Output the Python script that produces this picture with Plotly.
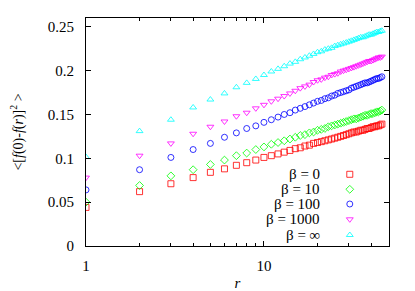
import plotly.graph_objects as go

r_values = list(range(1, 47))

beta_labels = ["β = 0", "β = 10", "β = 100", "β = 1000", "β = ∞"]

beta_0 = [0.044, 0.062, 0.071, 0.078, 0.084, 0.088, 0.092, 0.095, 0.098, 0.101,
          0.103, 0.105, 0.107, 0.109, 0.111, 0.112, 0.114, 0.115, 0.117, 0.118,
          0.119, 0.120, 0.121, 0.122, 0.123, 0.124, 0.125, 0.126, 0.127, 0.128,
          0.129, 0.130, 0.130, 0.131, 0.132, 0.132, 0.133, 0.134, 0.134, 0.135,
          0.136, 0.136, 0.137, 0.137, 0.138, 0.139]
beta_10 = [0.050, 0.069, 0.080, 0.087, 0.093, 0.098, 0.103, 0.106, 0.110, 0.113,
           0.116, 0.118, 0.120, 0.122, 0.124, 0.126, 0.127, 0.129, 0.130, 0.132,
           0.133, 0.134, 0.136, 0.137, 0.138, 0.139, 0.140, 0.141, 0.142, 0.143,
           0.144, 0.145, 0.145, 0.146, 0.147, 0.148, 0.149, 0.149, 0.150, 0.151,
           0.151, 0.152, 0.153, 0.153, 0.154, 0.155]
beta_100 = [0.064, 0.087, 0.101, 0.110, 0.117, 0.124, 0.129, 0.134, 0.137, 0.141,
            0.144, 0.147, 0.150, 0.152, 0.155, 0.157, 0.159, 0.161, 0.163, 0.165,
            0.166, 0.168, 0.169, 0.171, 0.172, 0.174, 0.175, 0.176, 0.177, 0.178,
            0.180, 0.181, 0.182, 0.183, 0.184, 0.185, 0.186, 0.186, 0.187, 0.188,
            0.189, 0.190, 0.191, 0.191, 0.192, 0.193]
beta_1000 = [0.078, 0.103, 0.117, 0.128, 0.136, 0.142, 0.148, 0.152, 0.157, 0.161,
             0.165, 0.168, 0.171, 0.174, 0.177, 0.180, 0.182, 0.184, 0.187, 0.189,
             0.190, 0.192, 0.193, 0.195, 0.196, 0.197, 0.199, 0.200, 0.201, 0.202,
             0.203, 0.204, 0.205, 0.206, 0.207, 0.208, 0.209, 0.210, 0.211, 0.211,
             0.212, 0.213, 0.214, 0.215, 0.215, 0.216]
beta_inf = [0.1015, 0.131, 0.144, 0.158, 0.167, 0.174, 0.181, 0.186, 0.1905, 0.195,
            0.199, 0.202, 0.205, 0.208, 0.210, 0.213, 0.215, 0.217, 0.219, 0.221,
            0.222, 0.224, 0.225, 0.226, 0.228, 0.229, 0.230, 0.231, 0.232, 0.233,
            0.234, 0.235, 0.236, 0.237, 0.238, 0.238, 0.239, 0.240, 0.241, 0.241,
            0.242, 0.243, 0.244, 0.244, 0.245, 0.2455]

y_ticks = [0, 0.05, 0.1, 0.15, 0.2, 0.25]
y_tick_text = ["0", "0.05", "0.1", "0.15", "0.2", "0.25"]
x_ticks = [1, 10]
x_tick_text = ["1", "10"]
x_minor = [2, 3, 4, 5, 6, 7, 8, 9, 20, 30, 40, 50]

series = [beta_0, beta_10, beta_100, beta_1000, beta_inf]
colors = ["#ff0000", "#00ff00", "#0000ff", "#ff00ff", "#00ffff"]
symbols = ["square-open", "diamond-open", "circle-open", "triangle-down-open", "triangle-up-open"]
sizes = [6, 6, 6, 6, 6]

FONT = '"Liberation Serif", "DejaVu Serif", serif'

fig = go.Figure()
for vals, col, sym, sz, name in zip(series, colors, symbols, sizes, beta_labels):
    fig.add_trace(go.Scatter(
        x=r_values, y=vals, mode="markers", name=name, showlegend=False,
        marker=dict(symbol=sym, size=sz, color=col, opacity=0.8,
                    line=dict(width=1, color=col)),
    ))

# manual legend: text right-aligned, symbol to the right
legend_rows = [0.3145, 0.2487, 0.1842, 0.1171, 0.0482]
text_x = 0.775
sym_x = 0.8706
for name, col, sym, sz, ry in zip(beta_labels, colors, symbols, sizes, legend_rows):
    fig.add_trace(go.Scatter(
        x=[sym_x], y=[ry], xaxis="x2", yaxis="y2", mode="markers", showlegend=False,
        marker=dict(symbol=sym, size=sz, color=col, opacity=0.8,
                    line=dict(width=1, color=col)),
        hoverinfo="skip",
    ))
    fig.add_annotation(x=text_x, y=ry, xref="paper", yref="paper", text=name,
                       showarrow=False, xanchor="right", yanchor="middle", borderpad=0,
                       font=dict(family=FONT, size=15, color="black"))

axis_common = dict(showgrid=False, zeroline=False, showline=True, linecolor="black",
                   linewidth=1, mirror="ticks", ticks="inside", tickcolor="black",
                   automargin=False,
                   tickfont=dict(family=FONT, size=15, color="black"))

fig.update_layout(
    width=415, height=291,
    margin=dict(l=86, r=26, t=18, b=45),
    paper_bgcolor="white", plot_bgcolor="white",
    font=dict(family=FONT, size=15, color="black"),
    xaxis=dict(type="log", range=[0, 1.7027], tickvals=x_ticks, ticktext=x_tick_text,
               ticklen=5, ticklabelstandoff=6,
               minor=dict(tickvals=x_minor, ticks="inside", ticklen=3, tickcolor="black"),
               title=dict(text="<i>r</i>", font=dict(family=FONT, size=15), standoff=8),
               **axis_common),
    yaxis=dict(range=[0, 0.26], tickvals=y_ticks, ticktext=y_tick_text, ticklen=5,
               ticklabelstandoff=8,
               title=dict(text="&lt;[<i>f</i>(0)-<i>f</i>(<i>r</i>)]<sup>2</sup> &gt;",
                          font=dict(family=FONT, size=14), standoff=20),
               **axis_common),
    xaxis2=dict(range=[0, 1], overlaying="x", visible=False, fixedrange=True),
    yaxis2=dict(range=[0, 1], overlaying="y", visible=False, fixedrange=True),
)

fig.write_html("out.html", config={"displayModeBar": False},
               post_script="document.body.style.margin='0';document.body.style.padding='0';")
